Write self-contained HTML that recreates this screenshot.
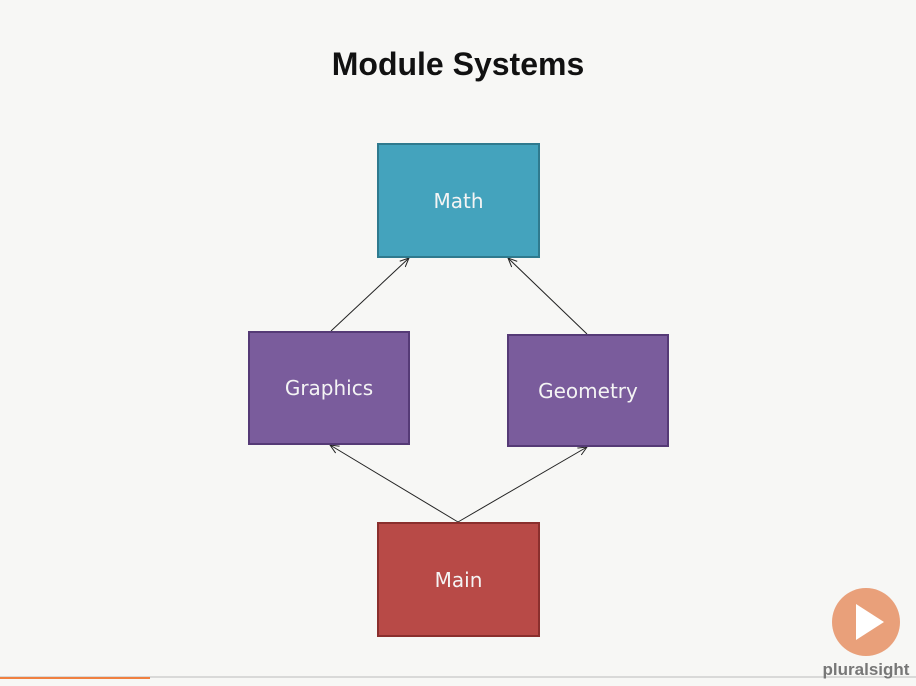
<!DOCTYPE html>
<html><head><style>
body{margin:0;width:916px;height:686px;background:#f7f7f5;position:relative;overflow:hidden;font-family:"Liberation Sans",sans-serif}
.t{position:absolute;top:46px;left:0;width:916px;text-align:center;font-weight:bold;font-size:32px;color:#111}
.b{position:absolute;box-sizing:border-box;border:2px solid;display:flex;align-items:center;justify-content:center;color:#f4f4f4;font-family:"Comic Sans MS","DejaVu Sans",sans-serif;font-size:20px}
</style></head><body>
<div class="t">Module Systems</div>
<svg width="916" height="686" style="position:absolute;left:0;top:0">
<defs><marker id="a" markerWidth="10" markerHeight="10" refX="9" refY="5" orient="auto"><path d="M0,1 L9,5 L0,9" fill="none" stroke="#222" stroke-width="1"/></marker></defs>
<g stroke="#222" stroke-width="1" marker-end="url(#a)">
<line x1="331" y1="331" x2="409" y2="258"/>
<line x1="587" y1="334" x2="508" y2="258"/>
<line x1="458" y1="522" x2="330" y2="445"/>
<line x1="458" y1="522" x2="587" y2="447"/>
</g>
<line x1="0" y1="677" x2="916" y2="677" stroke="#bbb" stroke-width="1"/>
<line x1="0" y1="678" x2="150" y2="678" stroke="#f08040" stroke-width="2"/>
<circle cx="866" cy="622" r="34" fill="#e9a07a"/>
<path d="M856,604 L884,622 L856,640 Z" fill="#fff"/>
<text x="866" y="675" font-size="17" font-weight="bold" fill="#777" text-anchor="middle" font-family="Liberation Sans">pluralsight</text>
</svg>
<div class="b" style="left:377px;top:143px;width:163px;height:115px;background:#44a3bd;border-color:#2f7a8e">Math</div>
<div class="b" style="left:248px;top:331px;width:162px;height:114px;background:#7a5c9c;border-color:#553a76">Graphics</div>
<div class="b" style="left:507px;top:334px;width:162px;height:113px;background:#7a5c9c;border-color:#553a76">Geometry</div>
<div class="b" style="left:377px;top:522px;width:163px;height:115px;background:#b84a47;border-color:#8a2f2d">Main</div>
</body></html>
